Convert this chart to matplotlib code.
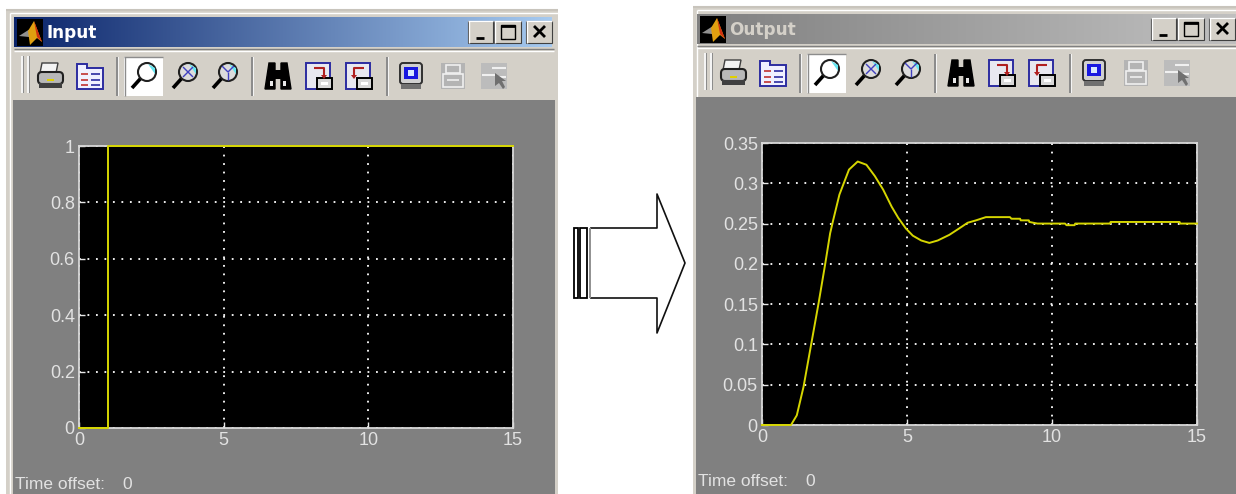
import numpy as np
import matplotlib
matplotlib.use("Agg")
import matplotlib.pyplot as plt
from matplotlib.patches import Rectangle, Polygon, Circle, FancyBboxPatch
from matplotlib.colors import LinearSegmentedColormap

# ---- chart data ----
input_t = [0, 1, 1, 15]
input_y = [0, 0, 1, 1]
output_t = [0, 1.0, 1.2, 1.43, 1.69, 1.95, 2.18, 2.35, 2.46, 2.67, 3.0, 3.3, 3.6, 3.89, 4.18,
            4.47, 4.7, 4.96, 5.2, 5.49, 5.77, 6.06, 6.46, 6.8, 7.09, 7.38, 7.72, 8.55, 8.6,
            8.9, 8.92, 9.2, 9.22, 9.5, 10.45, 10.5, 10.78, 10.8, 12.0, 12.02, 14.4, 14.42, 15]
output_y = [0, 0, 0.012, 0.047, 0.099, 0.151, 0.2, 0.238, 0.255, 0.286, 0.317, 0.327, 0.323,
            0.309, 0.292, 0.271, 0.257, 0.244, 0.235, 0.229, 0.226, 0.229, 0.236, 0.244, 0.251,
            0.254, 0.258, 0.258, 0.256, 0.256, 0.254, 0.254, 0.252, 0.25, 0.25, 0.248, 0.248,
            0.25, 0.25, 0.252, 0.252, 0.25, 0.25]
input_yticks = [0, 0.2, 0.4, 0.6, 0.8, 1]
input_ylabels = ["0", "0.2", "0.4", "0.6", "0.8", "1"]
output_yticks = [0, 0.05, 0.1, 0.15, 0.2, 0.25, 0.3, 0.35]
output_ylabels = ["0", "0.05", "0.1", "0.15", "0.2", "0.25", "0.3", "0.35"]
time_ticks = [0, 5, 10, 15]
time_labels = ["0", "5", "10", "15"]

W, H = 1236, 494
FACE = "#d4d0c8"
GRAY = "#808080"
TXT = "#e2e2e2"
YEL = "#d6d600"
plt.rcParams["font.family"] = ["Liberation Sans", "DejaVu Sans"]

fig = plt.figure(figsize=(W / 100, H / 100), dpi=100, facecolor="white")
bg = fig.add_axes([0, 0, 1, 1], zorder=0)
bg.set_xlim(0, W)
bg.set_ylim(H, 0)
bg.axis("off")


def rect(x0, y0, x1, y1, color, z=1, **kw):
    bg.add_patch(Rectangle((x0, y0), x1 - x0, y1 - y0, fc=color, ec="none", zorder=z, **kw))


def line(xs, ys, color="k", lw=1.0, z=4):
    bg.plot(xs, ys, color=color, lw=lw, zorder=z, solid_capstyle="butt")


def magnifier(cx, cy, kind, fc="#ffffff"):
    ccx, ccy = cx + 3, cy - 4
    line([cx - 12, ccx - 6], [cy + 12, ccy + 6], "k", 2.6)
    bg.add_patch(Circle((ccx, ccy), 9, fc=fc, ec="#202020", lw=1.5, zorder=4))
    bg.add_patch(Polygon([[ccx + 1, ccy - 8], [ccx + 8, ccy - 4], [ccx + 8, ccy + 2]],
                         fc="#66e6f0", ec="none", zorder=5))
    if kind == "x":
        line([ccx - 5, ccx + 5], [ccy - 5, ccy + 5], "#4040c0", 1, 6)
        line([ccx - 5, ccx + 5], [ccy + 5, ccy - 5], "#4040c0", 1, 6)
    if kind == "y":
        line([ccx, ccx], [ccy, ccy + 8], "#4040c0", 1, 6)
        line([ccx - 6, ccx], [ccy - 6, ccy], "#4040c0", 1, 6)
        line([ccx + 6, ccx], [ccy - 6, ccy], "#4040c0", 1, 6)


def printer(cx, cy):
    bg.add_patch(Polygon([[cx - 8, cy - 13], [cx + 8, cy - 13], [cx + 6, cy - 3], [cx - 10, cy - 3]],
                         fc="#f4f4f4", ec="#404040", lw=1, zorder=4))
    bg.add_patch(FancyBboxPatch((cx - 12, cy - 4), 25, 12, boxstyle="round,pad=0,rounding_size=4",
                                fc="#b8b8b8", ec="#202020", lw=1.5, zorder=4))
    rect(cx - 11, cy + 7, cx + 12, cy + 12, "#404040", 4)
    rect(cx - 3, cy + 3, cx + 4, cy + 5, "#e0d000", 5)


def clipboard(cx, cy):
    bg.add_patch(Polygon([[cx - 13, cy - 12], [cx - 3, cy - 12], [cx - 3, cy - 8], [cx + 13, cy - 8],
                          [cx + 13, cy + 13], [cx - 13, cy + 13]],
                         fc="#f0f0ff", ec="#2c2ca0", lw=1.4, zorder=4))
    for dy in (-2, 4, 9):
        line([cx - 9, cx - 2], [cy + dy, cy + dy], "#c03030", 1.2, 5)
        line([cx + 1, cx + 10], [cy + dy, cy + dy], "#2c2ca0", 1.2, 5)


def binoculars(cx, cy):
    for s in (-1, 1):
        bg.add_patch(Polygon([[cx + s * 3, cy - 13], [cx + s * 9, cy - 13], [cx + s * 13, cy + 13],
                              [cx + s * 3, cy + 13]], fc="k", ec="k", zorder=4))
    rect(cx - 3, cy - 6, cx + 3, cy + 3, "k", 4)
    rect(cx - 8, cy + 5, cx - 5, cy + 10, "#e8e8e8", 5)
    rect(cx + 5, cy + 5, cx + 8, cy + 10, "#e8e8e8", 5)


def scope_params(cx, cy, flip):
    rect(cx - 13, cy - 13, cx + 11, cy + 13, "#e8e8f0", 4)
    bg.add_patch(Rectangle((cx - 13, cy - 13), 24, 26, fc="none", ec="#2c2ca0", lw=1.4, zorder=4))
    bg.add_patch(Rectangle((cx - 2, cy + 2), 15, 11, fc="#d8d8d8", ec="k", lw=1.4, zorder=5))
    rect(cx + 2, cy + 6, cx + 9, cy + 9, "#ffffff", 6)
    ys = [cy - 8, cy - 8, cy + 0]
    xs = [cx - 5, cx + 5, cx + 5] if not flip else [cx + 5, cx - 5, cx - 5]
    line(xs, ys, "#b02020", 1.5, 6)
    bg.add_patch(Polygon([[xs[2] - 3, cy - 1], [xs[2] + 3, cy - 1], [xs[2], cy + 3]],
                         fc="#b02020", ec="none", zorder=6))


def chip(cx, cy):
    bg.add_patch(FancyBboxPatch((cx - 11, cy - 13), 22, 21, boxstyle="round,pad=0,rounding_size=3",
                                fc="#d0d0d0", ec="#303030", lw=1.4, zorder=4))
    rect(cx - 7, cy - 9, cx + 7, cy + 3, "#1818e0", 5)
    rect(cx - 3, cy - 6, cx + 3, cy, "#d8e8ff", 6)
    rect(cx - 10, cy + 8, cx + 10, cy + 13, "#707070", 4)


def disabled_a(cx, cy):
    rect(cx - 12, cy - 13, cx + 12, cy + 13, "#b4b4b4", 4)
    bg.add_patch(Rectangle((cx - 7, cy - 11), 14, 8, fc="none", ec="#f0f0f0", lw=1.2, zorder=5))
    bg.add_patch(Rectangle((cx - 10, cy - 2), 20, 13, fc="none", ec="#f0f0f0", lw=1.2, zorder=5))
    line([cx - 6, cx + 6], [cy + 4, cy + 4], "#f0f0f0", 1.2, 5)


def disabled_b(cx, cy):
    rect(cx - 13, cy - 13, cx + 13, cy + 13, "#bcbcbc", 4)
    line([cx - 2, cx + 12], [cy - 8, cy - 8], "#f0f0f0", 1.5, 5)
    line([cx - 12, cx + 1], [cy - 1, cy - 1], "#f0f0f0", 1.5, 5)
    line([cx + 5, cx + 12], [cy + 1, cy + 1], "#f0f0f0", 1.5, 5)
    bg.add_patch(Polygon([[cx + 1, cy - 3], [cx + 1, cy + 10], [cx + 5, cy + 7], [cx + 9, cy + 13],
                          [cx + 11, cy + 11], [cx + 8, cy + 5], [cx + 12, cy + 5]],
                         fc="#707070", ec="none", zorder=6))


def window(ox, oy, x0, x1, tx0, title, c0, c1, tcolor, time_y):
    """Window chrome; ox/oy shift the toolbar layout measured on the Input window."""
    rect(x0, oy + 10, x1, H, FACE, 1)
    line([x0, x1], [oy + 10.5, oy + 10.5], "#c8c4bc", 1.5, 2)
    line([x0 + 4, x1], [oy + 13.5, oy + 13.5], "#ffffff", 1, 2)
    line([x0 + 4, x0 + 4], [oy + 13, H], "#ffffff", 1, 2)
    # title gradient
    cmap = LinearSegmentedColormap.from_list("t", [c0, c1])
    bg.imshow(np.linspace(0, 1, 256)[None, :], cmap=cmap, aspect="auto", zorder=2,
              extent=(tx0, x1 - 6 if x1 < W else x1, oy + 47, oy + 17))
    # logo
    rect(tx0 + 3, oy + 19, tx0 + 29, oy + 46, "#000000", 3)
    bg.add_patch(Polygon([[tx0 + 5, oy + 36], [tx0 + 16, oy + 29], [tx0 + 21, oy + 38], [tx0 + 15, oy + 37]],
                         fc="#909090", ec="none", zorder=4))
    bg.add_patch(Polygon([[tx0 + 14, oy + 31], [tx0 + 20, oy + 21], [tx0 + 28, oy + 42], [tx0 + 23, oy + 38],
                          [tx0 + 16, oy + 45]], fc="#e0a010", ec="none", zorder=4))
    bg.add_patch(Polygon([[tx0 + 20, oy + 21], [tx0 + 28, oy + 42], [tx0 + 23, oy + 37]],
                         fc="#d03010", ec="none", zorder=5))
    bg.text(tx0 + 32, oy + 33, title, color=tcolor, fontsize=12.2, fontweight="bold",
            family="DejaVu Sans", va="center", ha="left", zorder=5)
    # caption buttons
    for bx, w, sym in ((ox + 468, 25, "_"), (ox + 494, 27, "o"), (ox + 526, 26, "x")):
        bg.add_patch(Rectangle((bx, oy + 21), w, 22, fc=FACE, ec="#404040", lw=0.8, zorder=3))
        line([bx, bx + w], [oy + 21.5, oy + 21.5], "#ffffff", 1, 4)
        line([bx + .5, bx + .5], [oy + 21, oy + 43], "#ffffff", 1, 4)
        cx, cy = bx + w / 2, oy + 32
        if sym == "_":
            line([cx - 5, cx + 3], [cy + 6, cy + 6], "k", 2, 5)
        elif sym == "o":
            bg.add_patch(Rectangle((cx - 7, cy - 7), 14, 14, fc="none", ec="k", lw=1, zorder=5))
            line([cx - 7, cx + 7], [cy - 6, cy - 6], "k", 2, 5)
        else:
            line([cx - 5, cx + 6], [cy - 6, cy + 5], "k", 2, 5)
            line([cx - 5, cx + 6], [cy + 5, cy - 6], "k", 2, 5)
    # toolbar
    line([tx0, x1 - 4 if x1 < W else x1], [oy + 49.5, oy + 49.5], "#808080", 1, 2)
    line([tx0, x1 - 4 if x1 < W else x1], [oy + 51, oy + 51], "#ffffff", 1, 2)
    for a in (ox + 21, ox + 27):
        rect(a, oy + 56, a + 2, oy + 93, "#f4f4f4", 3)
        rect(a + 2, oy + 56, a + 3, oy + 93, "#8c8c8c", 3)
    for sx in (116, 251, 386):
        rect(ox + sx, oy + 57, ox + sx + 1.5, oy + 96, "#8c8c8c", 3)
        rect(ox + sx + 1.5, oy + 57, ox + sx + 3, oy + 96, "#f4f4f4", 3)
    rect(ox + 124, oy + 57, ox + 163, oy + 96, "#ffffff", 3)
    line([ox + 124, ox + 163], [oy + 57.5, oy + 57.5], "#8c8c8c", 1, 3)
    line([ox + 124.5, ox + 124.5], [oy + 57, oy + 96], "#8c8c8c", 1, 3)
    cy = oy + 76
    printer(ox + 50, cy)
    clipboard(ox + 90, cy)
    magnifier(ox + 144, cy, "")
    magnifier(ox + 185, cy, "x", "#dcdcdc")
    magnifier(ox + 225, cy, "y", "#dcdcdc")
    binoculars(ox + 278, cy)
    scope_params(ox + 319, cy, False)
    scope_params(ox + 359, cy, True)
    chip(ox + 411, cy)
    disabled_a(ox + 453, cy)
    disabled_b(ox + 494, cy)
    # gray body
    rect(tx0 - 1, oy + 100, x1 - 3 if x1 < W else x1, H, GRAY, 2)
    bg.text(tx0 + 1, time_y, "Time offset:", color=TXT, fontsize=12.5, va="center", ha="left", zorder=5)
    bg.text(tx0 + 108, time_y, "0", color=TXT, fontsize=12.5, va="center", ha="left", zorder=5)


window(0, 0, 6, 558, 14, "Input", "#0a246a", "#a6caf0", "#ffffff", 484)
window(683, -3, 693, W, 697, "Output", "#808080", "#c0c0c0", "#d4d0c8", 481)

# arrow between the windows
bg.add_patch(Rectangle((573.5, 228), 4, 70, fc="white", ec="k", lw=1.3, zorder=3))
bg.add_patch(Rectangle((580, 228), 7, 70, fc="white", ec="k", lw=1.3, zorder=3))
bg.plot([591, 657, 657, 685, 657, 657, 591], [228, 228, 194, 263, 333, 298, 298],
        color="#101010", lw=1.2, zorder=3)
line([590, 590], [228, 298], "#909090", 1.4, 3)


def scope(box, t, y, yticks, ylabels, ymax):
    x0, x1, ytop, ybot = box
    ax = fig.add_axes([x0 / W, 1 - ybot / H, (x1 - x0) / W, (ybot - ytop) / H], zorder=2)
    ax.set_facecolor("k")
    ax.set_xlim(0, 15)
    ax.set_ylim(0, ymax)
    ax.set_xticks(time_ticks, time_labels)
    ax.set_yticks(yticks, ylabels)
    ax.tick_params(direction="in", length=4, width=1, color="#e8e8e8", labelcolor=TXT,
                   labelsize=13, pad=3)
    ax.grid(True, color="#ffffff", lw=1.3, linestyle=(0, (1, 3.7)))
    ax.set_axisbelow(True)
    for s in ax.spines.values():
        s.set_color("#d8d8d8")
        s.set_linewidth(1.3)
    ax.plot(t, y, color=YEL, lw=1.4, clip_on=False, zorder=5)
    return ax


scope((79, 513, 146, 428), input_t, input_y, input_yticks, input_ylabels, 1)
scope((762, 1197, 143, 425), output_t, output_y, output_yticks, output_ylabels, 0.35)

fig.savefig("out.png", dpi=100, facecolor="white")
